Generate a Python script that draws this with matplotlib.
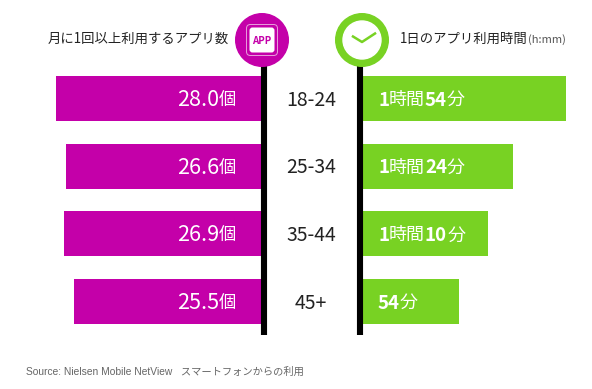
"""App usage by age group: apps per month vs. daily time, as mirrored bars."""

import matplotlib.pyplot as plt
from matplotlib.patches import Circle, FancyBboxPatch

plt.rcParams["font.family"] = ["Noto Sans CJK JP", "DejaVu Sans"]

age_groups = ["18-24", "25-34", "35-44", "45+"]
apps_per_month = [28.0, 26.6, 26.9, 25.5]
minutes_per_day = [114, 84, 70, 54]
time_labels = [
    [("1", "bold"), ("時間", "normal"), ("54", "bold"), ("分", "normal")],
    [("1", "bold"), ("時間", "normal"), ("24", "bold"), ("分", "normal")],
    [("1", "bold"), ("時間", "normal"), ("10", "bold"), ("分", "normal")],
    [("54", "bold"), ("分", "normal")],
]

MAGENTA = "#C400A9"
GREEN = "#78D223"
W, H = 592, 389


def bar_axes(fig, left_px, right_px):
    ax = fig.add_axes([left_px / W, 0, (right_px - left_px) / W, 1])
    ax.set_ylim(4.29, -1.456)
    ax.axis("off")
    return ax


fig = plt.figure(figsize=(W / 100, H / 100), dpi=100)

# bars, one axes per side with its own scale
ax_l = bar_axes(fig, 0, 261)
ax_l.set_xlim(261 / 7.32, 0)
ax_l.barh(range(4), apps_per_month, height=0.665, color=MAGENTA)

ax_r = bar_axes(fig, 363, W)
ax_r.set_xlim(0, (W - 363) / 1.78)
ax_r.barh(range(4), minutes_per_day, height=0.665, color=GREEN)

# everything else sits on a pixel-sized overlay
ov = fig.add_axes([0, 0, 1, 1])
ov.set_xlim(0, W)
ov.set_ylim(H, 0)
ov.axis("off")
ov.patch.set_alpha(0)

ov.plot([264, 264], [40, 335], color="black", lw=4.4, solid_capstyle="butt")
ov.plot([360, 360], [40, 335], color="black", lw=4.4, solid_capstyle="butt")

# app icon
ov.add_patch(Circle((262, 40), 26.3, color=MAGENTA, zorder=3))
ov.add_patch(FancyBboxPatch((249, 27), 26, 26, boxstyle="round,pad=2.5,rounding_size=4",
                            fc="none", ec="#E8A0DC", lw=0.7, zorder=4))
ov.add_patch(FancyBboxPatch((250, 28), 24, 24, boxstyle="round,pad=0.5,rounding_size=3",
                            fc="white", ec="none", zorder=4))
ov.text(262, 40.5, "APP", color=MAGENTA, fontsize=7, fontweight="bold",
        ha="center", va="center", zorder=5)

# clock icon
ov.add_patch(Circle((362, 40), 26.3, color=GREEN, zorder=3))
ov.add_patch(Circle((362, 40), 19, color="white", zorder=4))
ov.plot([353, 362, 375], [36.5, 42, 33.5], color=GREEN, lw=1.8, zorder=5)

# headers
ov.text(48, 39, "月に1回以上利用するアプリ数", fontsize=9.6, color="#222222", va="center")
ov.text(400, 39, "1日のアプリ利用時間", fontsize=9.6, color="#222222", va="center")
ov.text(528, 40, "(h:mm)", fontsize=8, color="#555555", va="center")

for i, age in enumerate(age_groups):
    y = 100 + 67.67 * i
    ov.text(311, y, age, fontsize=14, color="#222222", ha="center", va="center")

    # left value: number then the thin counter
    ov.text(236.5, y, "個", fontsize=12.5, color="white", ha="right", va="center")
    ov.text(219, y, f"{apps_per_month[i]:.1f}", fontsize=15.5, color="white",
            ha="right", va="center")

    # right value: bold digits and regular kanji chained left to right
    prev = None
    for piece, weight in time_labels[i]:
        size = 13.5 if weight == "bold" else 13
        if prev is None:
            prev = ov.annotate(piece, xy=(378, y), fontsize=size, fontweight=weight,
                               color="white", va="center")
        else:
            prev = ov.annotate(piece, xy=(1, 0.5), xycoords=prev, fontsize=size,
                               fontweight=weight, color="white", va="center")

ov.text(26, 372, "Source: Nielsen Mobile NetView   スマートフォンからの利用", fontsize=7.4,
        color="#666666", va="center", family=["Liberation Sans", "Noto Sans CJK JP"])

fig.savefig("out.png", dpi=100)
plt.close(fig)
